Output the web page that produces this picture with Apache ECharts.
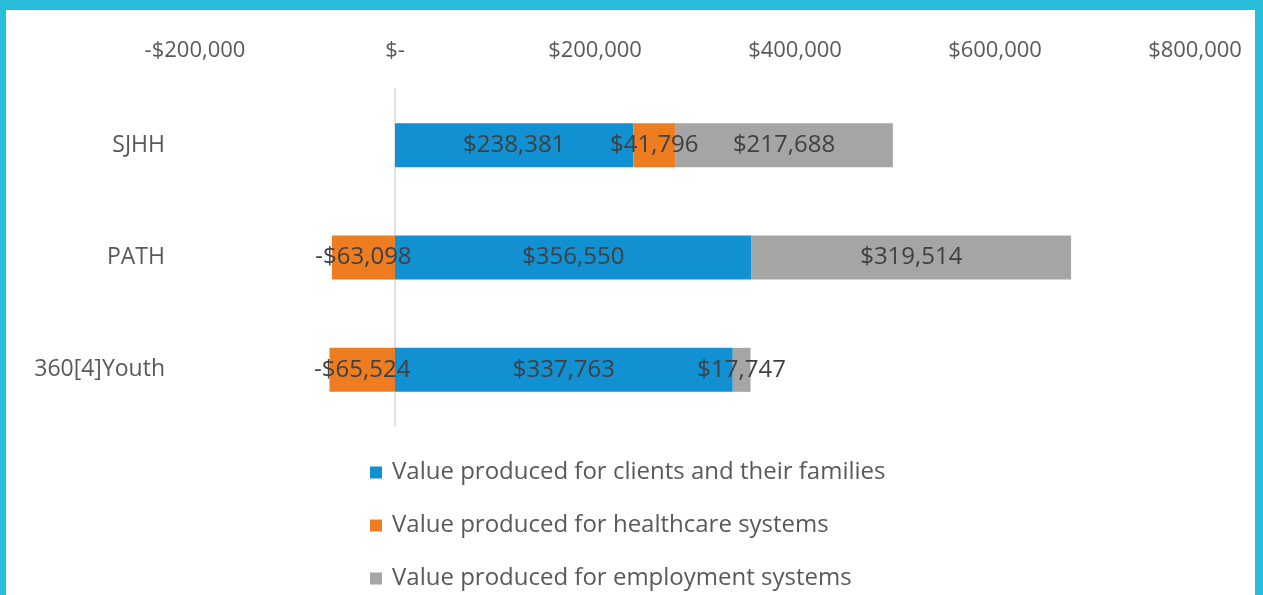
<!DOCTYPE html>
<html>
<head>
<meta charset="utf-8">
<script src="https://cdn.jsdelivr.net/npm/echarts@6/dist/echarts.min.js"></script>
<style>
html,body{margin:0;padding:0;background:#fff;}
#chart{width:1263px;height:595px;}
</style>
</head>
<body>
<div id="chart"></div>
<script>
const categories = ['SJHH', 'PATH', '360[4]Youth'];
const clientsValues = [238381, 356550, 337763];
const healthcareValues = [41796, -63098, -65524];
const employmentValues = [217688, 319514, 17747];
const seriesNames = [
  'Value produced for clients and their families',
  'Value produced for healthcare systems',
  'Value produced for employment systems'
];
const axisTicks = [-200000, 0, 200000, 400000, 600000, 800000];

function money(v) {
  if (v === 0) return '$-';
  const s = Math.abs(v).toLocaleString('en-US');
  return (v < 0 ? '-$' : '$') + s;
}

const chart = echarts.init(document.getElementById('chart'));
const FONT = '"Open Sans", sans-serif';
const colors = ['#1190D2', '#EE7D22', '#A5A5A5'];

function mk(name, data, color) {
  return {
    name: name,
    type: 'bar',
    stack: 'total',
    data: data,
    barWidth: 44,
    itemStyle: { color: color },
    label: {
      show: true,
      position: 'inside',
      formatter: p => money(p.value),
      color: '#404040',
      fontFamily: FONT,
      fontSize: 24
    }
  };
}

chart.setOption({
  backgroundColor: '#fff',
  animation: false,
  color: colors,
  grid: { left: 195, right: 68, top: 89, bottom: 169, containLabel: false },
  xAxis: {
    type: 'value',
    position: 'top',
    min: axisTicks[0],
    max: axisTicks[axisTicks.length - 1],
    interval: 200000,
    axisLine: { show: false },
    axisTick: { show: false },
    splitLine: { show: false },
    axisLabel: {
      formatter: v => money(v),
      color: '#595959',
      fontFamily: FONT,
      fontSize: 22,
      margin: 27
    }
  },
  yAxis: {
    type: 'category',
    inverse: true,
    data: categories,
    axisLine: { show: true, onZero: true, lineStyle: { color: '#D9D9D9', width: 1.5 } },
    axisTick: { show: false },
    axisLabel: {
      color: '#595959',
      fontFamily: FONT,
      fontSize: 23,
      margin: 30
    }
  },
  legend: {
    orient: 'vertical',
    left: 370,
    top: 460,
    height: 140,
    icon: 'rect',
    itemWidth: 12,
    itemHeight: 12,
    itemGap: 28,
    padding: 0,
    data: seriesNames,
    textStyle: { color: '#595959', fontFamily: FONT, fontSize: 24, lineHeight: 25, padding: [0, 0, 0, 5] }
  },
  graphic: [
    { type: 'rect', shape: { x: 0, y: 0, width: 1263, height: 10 }, style: { fill: '#27BDDB' }, silent: true },
    { type: 'rect', shape: { x: 0, y: 0, width: 6, height: 595 }, style: { fill: '#27BDDB' }, silent: true },
    { type: 'rect', shape: { x: 1255, y: 0, width: 8, height: 595 }, style: { fill: '#27BDDB' }, silent: true }
  ],
  series: [
    mk(seriesNames[0], clientsValues, colors[0]),
    mk(seriesNames[1], healthcareValues, colors[1]),
    mk(seriesNames[2], employmentValues, colors[2])
  ]
});
</script>
</body>
</html>
